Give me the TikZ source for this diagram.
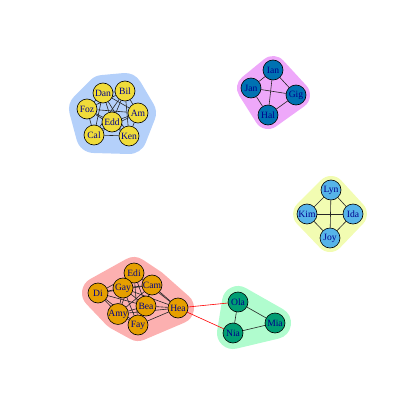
\documentclass[tikz,border=0pt]{standalone}
\usepackage{fontspec}
\setmainfont{Liberation Serif}
\usetikzlibrary{backgrounds}

\definecolor{labelblue}{RGB}{0,0,139}
\definecolor{vyellow}{HTML}{F0DC3A}
\definecolor{vorange}{HTML}{E69F00}
\definecolor{vgreen}{HTML}{009E73}
\definecolor{vsky}{HTML}{56B4E9}
\definecolor{vdeep}{HTML}{0072B2}
\definecolor{hullred}{RGB}{252,176,176}
\definecolor{hulllime}{RGB}{242,252,178}
\definecolor{hullmint}{RGB}{176,252,206}
\definecolor{hullblue}{RGB}{180,208,250}
\definecolor{hullviolet}{RGB}{238,168,250}

\begin{document}
\begin{tikzpicture}[x=1pt, y=-1pt,
  vertex/.style={circle, draw=black, line width=0.6pt, minimum size=20pt,
    inner sep=0pt, text=labelblue, font=\fontsize{9.6}{10}\selectfont},
  edge/.style={draw=black!85, line width=0.6pt},
  bridge/.style={draw=red, line width=0.6pt},
  hull/.style={line width=32pt, line join=round}]
  \useasboundingbox (0,0) rectangle (415,415);

  % first group
  \node (Dan) [vertex, fill=vyellow] at (103,93) {Dan};
  \node (Bil) [vertex, fill=vyellow] at (125,91) {Bil};
  \node (Foz) [vertex, fill=vyellow] at (87,109) {Foz};
  \node (Am)  [vertex, fill=vyellow] at (138,113) {Am};
  \node (Edd) [vertex, fill=vyellow] at (112,122) {Edd};
  \node (Cal) [vertex, fill=vyellow] at (94,135) {Cal};
  \node (Ken) [vertex, fill=vyellow] at (129,136) {Ken};

  % second group
  \node (Ian) [vertex, fill=vdeep] at (273,70) {Ian};
  \node (Jan) [vertex, fill=vdeep] at (251,88) {Jan};
  \node (Gig) [vertex, fill=vdeep] at (296,95) {Gig};
  \node (Hal) [vertex, fill=vdeep] at (268,115) {Hal};

  % third group
  \node (Lyn) [vertex, fill=vsky] at (331,190) {Lyn};
  \node (Kim) [vertex, fill=vsky] at (307,214) {Kim};
  \node (Ida) [vertex, fill=vsky] at (353,214) {Ida};
  \node (Joy) [vertex, fill=vsky] at (330,238) {Joy};

  % fourth group
  \node (Edi) [vertex, fill=vorange] at (134,273) {Edi};
  \node (Gay) [vertex, fill=vorange] at (123,288) {Gay};
  \node (Di)  [vertex, fill=vorange] at (98,293) {Di};
  \node (Cam) [vertex, fill=vorange] at (152,285) {Cam};
  \node (Bea) [vertex, fill=vorange] at (146,306) {Bea};
  \node (Hea) [vertex, fill=vorange] at (178,308) {Hea};
  \node (Amy) [vertex, fill=vorange] at (118,314) {Amy};
  \node (Fay) [vertex, fill=vorange] at (138,325) {Fay};

  % fifth group
  \node (Ola) [vertex, fill=vgreen] at (238,302) {Ola};
  \node (Nia) [vertex, fill=vgreen] at (233,333) {Nia};
  \node (Mia) [vertex, fill=vgreen] at (275,323) {Mia};

  \begin{scope}[on background layer]
    \filldraw[hull, hullblue, line width=36pt] (Dan.center) -- (Bil.center)
      -- (Am.center) -- (Ken.center) -- (Cal.center) -- (Foz.center) -- cycle;
    \filldraw[hull, hullviolet, line width=28pt] (Ian.center) -- (Gig.center)
      -- (Hal.center) -- (Jan.center) -- cycle;
    \filldraw[hull, hulllime, line width=28pt] (Lyn.center) -- (Ida.center)
      -- (Joy.center) -- (Kim.center) -- cycle;
    \filldraw[hull, hullred] (Di.center) -- (Edi.center) -- (Cam.center)
      -- (Hea.center) -- (Fay.center) -- (Amy.center) -- cycle;
    \filldraw[hull, hullmint] (Ola.center) -- (Mia.center) -- (Nia.center) -- cycle;

    \foreach \a/\b in {Dan/Bil, Dan/Foz, Dan/Am, Dan/Edd, Dan/Cal, Dan/Ken,
      Bil/Foz, Bil/Am, Bil/Edd, Bil/Cal, Bil/Ken, Foz/Am, Foz/Edd, Foz/Cal,
      Foz/Ken, Am/Edd, Am/Cal, Am/Ken, Edd/Cal, Edd/Ken, Cal/Ken}
      \draw[edge] (\a) -- (\b);
    \foreach \a/\b in {Ian/Jan, Ian/Gig, Ian/Hal, Jan/Gig, Jan/Hal, Gig/Hal,
      Lyn/Kim, Lyn/Ida, Lyn/Joy, Kim/Ida, Kim/Joy, Ida/Joy,
      Ola/Nia, Ola/Mia, Nia/Mia}
      \draw[edge] (\a) -- (\b);
    \foreach \a/\b in {Edi/Gay, Edi/Di, Edi/Cam, Edi/Bea, Edi/Hea, Edi/Amy,
      Edi/Fay, Gay/Di, Gay/Cam, Gay/Bea, Gay/Hea, Gay/Amy, Gay/Fay, Di/Cam,
      Di/Bea, Di/Amy, Di/Fay, Cam/Bea, Cam/Hea, Cam/Amy, Cam/Fay, Bea/Hea,
      Bea/Amy, Bea/Fay, Hea/Amy, Hea/Fay, Amy/Fay}
      \draw[edge] (\a) -- (\b);
    \draw[bridge] (Hea) -- (Ola);
    \draw[bridge] (Hea) -- (Nia);
  \end{scope}
\end{tikzpicture}
\end{document}
